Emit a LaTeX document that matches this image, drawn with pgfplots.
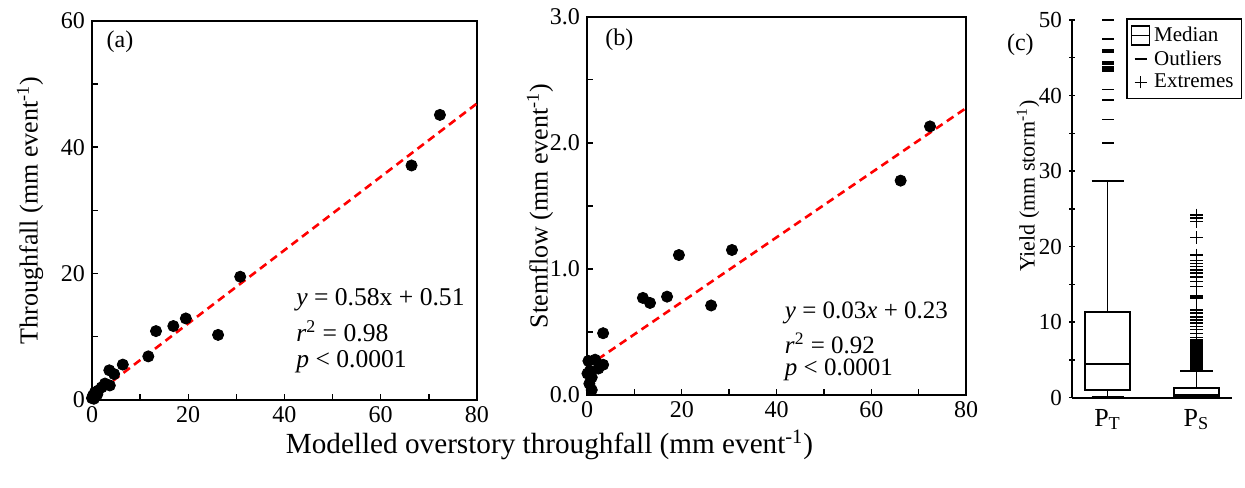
\documentclass[border=0pt]{standalone}
\usepackage{fontspec}
\setmainfont{Liberation Serif}
\usepackage{pgfplots}
\pgfplotsset{compat=1.18}
\usepgfplotslibrary{statistics}

\newcommand{\fs}[1]{\fontsize{#1}{1.2\dimexpr#1\relax}\selectfont}

\pgfplotsset{
  panel/.style={
    scale only axis, anchor=south west,
    axis line style={line width=0.8bp},
    every tick/.style={black, line width=0.7bp},
    tick align=inside, tick pos=left,
    major tick length=3bp, minor tick length=3bp,
    tick label style={font=\fs{12bp}, text=black},
    xticklabel style={yshift=-2bp, inner sep=1bp},
    label style={font=\fs{13bp}},
    /pgf/number format/assume math mode=true,
    clip=false,
  },
  dots/.style={only marks, mark=*, mark size=2.8bp, black},
  fitline/.style={red, line width=1.3bp, dash pattern=on 4bp off 2.6bp},
}

\begin{document}
\begin{tikzpicture}
\path[use as bounding box] (0,0) rectangle (622.5bp,-244bp);

% (a) throughfall
\begin{axis}[panel, at={(46bp,-200bp)}, width=192.5bp, height=189.65bp,
    xmin=0, xmax=80, ymin=0, ymax=60,
    xtick={0,20,...,80}, minor xtick={10,30,50,70},
    ytick={0,20,40,60}, minor ytick={10,30,50},
    ylabel={Throughfall (mm event\textsuperscript{-1})},
    ylabel style={at={(axis description cs:-0.161,0.5)}, anchor=center}]
  \addplot[fitline] coordinates {(0,0.51) (80,46.91)};
  \addplot[dots] coordinates {
    (72.3,45.1) (66.4,37.1) (30.8,19.5) (26.2,10.3) (19.5,12.9) (16.9,11.7)
    (13.3,10.9) (11.7,6.9) (6.4,5.6) (3.6,4.7) (4.6,4.1) (3.7,2.3) (2.7,2.6)
    (2.0,2.0) (1.3,1.5) (0.6,1.2) (0.2,0.7) (0.0,0.3) (0.4,0.2) (1.1,0.9)};
  \node[anchor=west, font=\fs{12bp}] at (axis description cs:0.02,0.945) {(a)};
  \node[anchor=west, font=\fs{12.8bp}] at (axis cs:41,15.8) {\textit{y} = 0.58x + 0.51};
  \node[anchor=west, font=\fs{12.8bp}] at (axis cs:41,10.9) {\textit{r}\textsuperscript{2} = 0.98};
  \node[anchor=west, font=\fs{12.8bp}] at (axis cs:41,6.0) {\textit{p} < 0.0001};
\end{axis}

% (b) stemflow
\begin{axis}[panel, at={(293.5bp,-197.5bp)}, width=189.5bp, height=189.15bp,
    xmin=0, xmax=80, ymin=0, ymax=3,
    xtick={0,20,...,80}, minor xtick={10,30,50,70},
    ytick={0,1,2,3}, yticklabels={0.0,1.0,2.0,3.0}, minor ytick={0.5,1.5,2.5},
    ylabel={Stemflow (mm event\textsuperscript{-1})},
    ylabel style={at={(axis description cs:-0.124,0.5)}, anchor=center}]
  \addplot[fitline] coordinates {(0,0.225) (80,2.275)};
  \addplot[dots] coordinates {
    (72.4,2.13) (66.2,1.70) (30.6,1.15) (26.2,0.71) (19.4,1.11) (16.9,0.78)
    (13.3,0.73) (11.8,0.77) (3.4,0.49) (3.4,0.24) (2.4,0.21) (1.7,0.28)
    (0.3,0.27) (0.6,0.19) (1.0,0.14) (0.1,0.17) (1.0,0.04) (0.5,0.09)};
  \node[anchor=west, font=\fs{12bp}] at (axis description cs:0.03,0.938) {(b)};
  \node[anchor=west, font=\fs{12.5bp}] at (axis cs:40.3,0.65) {\textit{y} = 0.03\textit{x} + 0.23};
  \node[anchor=west, font=\fs{12.5bp}] at (axis cs:40.3,0.41) {\textit{r}\textsuperscript{2} = 0.92};
  \node[anchor=west, font=\fs{12.5bp}] at (axis cs:40.3,0.20) {\textit{p} < 0.0001};
\end{axis}

% (c) yield
\begin{axis}[panel, at={(536bp,-198.85bp)}, width=80bp, height=188.85bp,
    axis lines=left, axis line style={-, line width=0.8bp},
    xmin=0.6, xmax=2.4, ymin=0, ymax=50,
    xtick={1,2}, xticklabels={P\textsubscript{T},P\textsubscript{S}},
    xtick style={draw=none}, xticklabel style={font=\fs{13bp}, yshift=-1bp},
    yticklabel style={font=\fs{11.5bp}},
    ytick={0,10,...,50}, minor ytick={5,15,...,45},
    ylabel={Yield (mm storm\textsuperscript{-1})},
    ylabel style={at={(axis description cs:-0.275,0.56)}, anchor=center, font=\fs{11bp}},
    legend style={at={(axis description cs:0.3375,1.005)}, anchor=north west,
      draw=black, line width=0.8bp, font=\fs{10.5bp}, inner sep=2bp,
      row sep=-1bp, cells={anchor=west}}]
  \addlegendimage{legend image code/.code={
    \draw[line width=0.7bp] (0bp,-4.75bp) rectangle (9bp,4.75bp);
    \draw[line width=0.7bp] (0bp,0bp) -- (9bp,0bp);}}
  \addlegendentry{Median}
  \addlegendimage{legend image code/.code={
    \draw[line width=0.8bp] (1.5bp,0bp) -- (7.5bp,0bp);}}
  \addlegendentry{Outliers}
  \addlegendimage{legend image code/.code={
    \draw[line width=0.8bp] (1.5bp,0bp) -- (7.5bp,0bp) (4.5bp,-3bp) -- (4.5bp,3bp);}}
  \addlegendentry{Extremes}

  \addplot[black, line width=0.9bp, solid, boxplot/draw direction=y,
    boxplot prepared={draw position=1,
    lower whisker=0.05, lower quartile=1.02, median=4.46,
    upper quartile=11.34, upper whisker=28.7,
    box extend=0.5, whisker extend=0.36}] coordinates {};
  \addplot[black, line width=0.9bp, solid, boxplot/draw direction=y,
    boxplot prepared={draw position=2,
    lower whisker=0.02, lower quartile=0.1, median=0.36,
    upper quartile=1.24, upper whisker=3.58,
    box extend=0.5, whisker extend=0.37}] coordinates {};
  % outliers of P_T
  \addplot[only marks, mark=-, mark size=3bp, black, line width=0.7bp] coordinates {
    (1,50.0) (1,47.5) (1,46.1) (1,45.9) (1,45.7) (1,44.5) (1,44.3) (1,44.1)
    (1,43.8) (1,43.6) (1,43.4) (1,43.2) (1,40.8) (1,39.4) (1,36.8) (1,33.7)};
  % extremes of P_S
  \addplot[only marks, mark=+, mark size=3.2bp, black, line width=0.7bp] coordinates {
    (2,24.2) (2,23.8) (2,23.3) (2,21.2) (2,18.9) (2,18.2) (2,17.8) (2,17.4)
    (2,16.9) (2,16.5) (2,16.0) (2,15.4) (2,14.7) (2,13.5) (2,13.35) (2,13.2)
    (2,11.6) (2,11.2) (2,10.7) (2,10.3) (2,9.9) (2,9.4) (2,9.0) (2,8.5)
    (2,8.0) (2,7.65) (2,7.5) (2,7.35) (2,7.2) (2,7.05) (2,6.9) (2,6.75)
    (2,6.6) (2,6.45) (2,6.3) (2,6.15) (2,6.0) (2,5.85) (2,5.7) (2,5.55)
    (2,5.4) (2,5.25) (2,5.1) (2,4.95) (2,4.8) (2,4.65) (2,4.5) (2,4.35)
    (2,4.2) (2,4.05) (2,3.9) (2,3.75)};
  \node[anchor=west, font=\fs{12bp}] at (axis description cs:-0.45,0.934) {(c)};
\end{axis}

\node[font=\fs{14.6bp}, inner sep=0pt] at (274.75bp,-222.5bp)
  {Modelled overstory throughfall (mm event\textsuperscript{-1})};
\end{tikzpicture}
\end{document}
